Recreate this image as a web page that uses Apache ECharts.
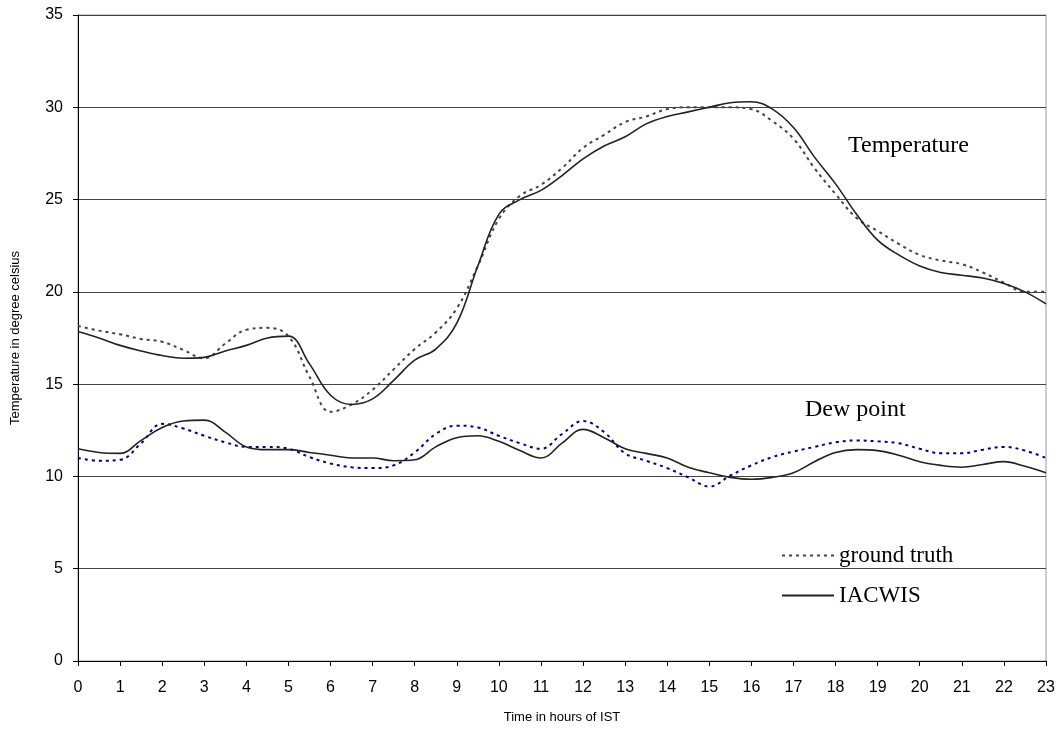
<!DOCTYPE html>
<html>
<head>
<meta charset="utf-8">
<script src="https://cdn.jsdelivr.net/npm/echarts@6/dist/echarts.min.js"></script>
<style>
  html, body { margin: 0; padding: 0; background: #fff; }
  #main { width: 1063px; height: 729px; }
</style>
</head>
<body>
<div id="main"></div>
<script>
// half-hour steps, 0 .. 23
var hours = [];
for (var h = 0; h <= 46; h++) hours.push(h / 2);

var tempIacwis = [17.85, 17.5, 17.1, 16.8, 16.55, 16.4, 16.45, 16.8, 17.1, 17.5, 17.6, 16.1, 14.4, 13.9,
  14.2, 15.2, 16.3, 16.9, 18.3, 21.4, 24.2, 25.0, 25.5, 26.3, 27.2, 27.9, 28.4, 29.1, 29.5, 29.75,
  30.0, 30.25, 30.3, 29.9, 28.9, 27.3, 25.85, 24.2, 22.8, 22.0, 21.4, 21.05, 20.9, 20.75, 20.45, 20.0, 19.35];
var tempTruth = [18.15, 17.9, 17.7, 17.45, 17.3, 16.85, 16.4, 17.2, 17.95, 18.05, 17.6, 15.4, 13.5, 13.9,
  14.7, 15.8, 16.9, 17.8, 19.1, 21.4, 23.95, 25.2, 25.8, 26.7, 27.8, 28.5, 29.2, 29.5, 29.9, 30.0,
  30.0, 30.0, 29.9, 29.25, 28.3, 26.7, 25.3, 24.0, 23.3, 22.6, 22.0, 21.7, 21.5, 21.05, 20.5, 20.0, 20.0];
var dewIacwis = [11.5, 11.3, 11.25, 11.95, 12.65, 13.0, 13.05, 12.4, 11.6, 11.45, 11.45, 11.3, 11.15, 11.0,
  11.0, 10.85, 10.9, 11.6, 12.1, 12.2, 11.9, 11.4, 11.0, 11.8, 12.55, 12.1, 11.5, 11.25, 11.0, 10.5,
  10.2, 9.95, 9.85, 9.95, 10.2, 10.8, 11.3, 11.45, 11.4, 11.15, 10.8, 10.6, 10.5, 10.65, 10.8, 10.55, 10.2];
var dewTruth = [11.0, 10.85, 10.9, 11.8, 12.85, 12.6, 12.2, 11.85, 11.6, 11.6, 11.5, 11.05, 10.7, 10.5,
  10.45, 10.6, 11.3, 12.3, 12.75, 12.65, 12.2, 11.8, 11.5, 12.3, 13.0, 12.4, 11.25, 10.85, 10.45, 9.95,
  9.45, 10.05, 10.6, 11.05, 11.35, 11.6, 11.85, 11.95, 11.9, 11.8, 11.5, 11.25, 11.25, 11.45, 11.6, 11.4, 11.0];

function pairs(vals) {
  return hours.map(function (x, i) { return [x, vals[i]]; });
}

var chartDom = document.getElementById('main');
var myChart = echarts.init(chartDom, null, { renderer: 'canvas' });

var option = {
  animation: false,
  backgroundColor: '#fff',
  grid: {
    left: 78, right: 17, top: 15, bottom: 68,
    outerBoundsMode: 'none', containLabel: false,
    show: true, borderColor: '#999', borderWidth: 1
  },
  legend: {
    data: ['ground truth', 'IACWIS'],
    orient: 'vertical',
    left: 776, top: 539,
    itemWidth: 52, itemHeight: 14, itemGap: 17,
    itemStyle: { opacity: 0 },
    textStyle: { fontFamily: 'Liberation Serif', fontSize: 23, color: '#000' }
  },
  xAxis: {
    type: 'value', min: 0, max: 23, interval: 1,
    name: 'Time in hours of IST', nameLocation: 'middle', nameGap: 50,
    nameTextStyle: { fontFamily: 'Liberation Sans', fontSize: 13, color: '#000' },
    axisLine: { lineStyle: { color: '#000', width: 1 } },
    axisTick: { length: 5, lineStyle: { color: '#000' } },
    axisLabel: { fontFamily: 'Liberation Sans', fontSize: 16, color: '#000', margin: 19 },
    splitLine: { show: false }
  },
  yAxis: {
    type: 'value', min: 0, max: 35, interval: 5,
    name: 'Temperature in degree celsius', nameLocation: 'middle', nameGap: 56,
    nameTextStyle: { fontFamily: 'Liberation Sans', fontSize: 13, color: '#000' },
    axisLine: { show: true, lineStyle: { color: '#000', width: 1 } },
    axisTick: { show: true, length: 5, lineStyle: { color: '#000' } },
    axisLabel: { fontFamily: 'Liberation Sans', fontSize: 16, color: '#000', margin: 15 },
    splitLine: { show: true, lineStyle: { color: '#444', width: 1 } }
  },
  graphic: [
    { type: 'text', left: 848, top: 134,
      style: { text: 'Temperature', font: '24px "Liberation Serif"', fill: '#000' } },
    { type: 'text', left: 805, top: 398,
      style: { text: 'Dew point', font: '24px "Liberation Serif"', fill: '#000' } }
  ],
  series: [
    {
      name: 'ground truth', type: 'line', smooth: 0.4, symbol: 'none',
      data: pairs(tempTruth),
      lineStyle: { color: '#444', width: 2, type: [3, 4] }, itemStyle: { color: '#444' }
    },
    {
      name: 'IACWIS', type: 'line', smooth: 0.4, symbol: 'none',
      data: pairs(tempIacwis),
      lineStyle: { color: '#222', width: 1.6 }, itemStyle: { color: '#222' }
    },
    {
      name: 'ground truth', type: 'line', smooth: 0.4, symbol: 'none',
      data: pairs(dewTruth),
      lineStyle: { color: '#000080', width: 2, type: [3, 4] }, itemStyle: { color: '#000080' }
    },
    {
      name: 'IACWIS', type: 'line', smooth: 0.4, symbol: 'none',
      data: pairs(dewIacwis),
      lineStyle: { color: '#222', width: 1.6 }, itemStyle: { color: '#222' }
    }
  ]
};

myChart.setOption(option);
</script>
</body>
</html>
